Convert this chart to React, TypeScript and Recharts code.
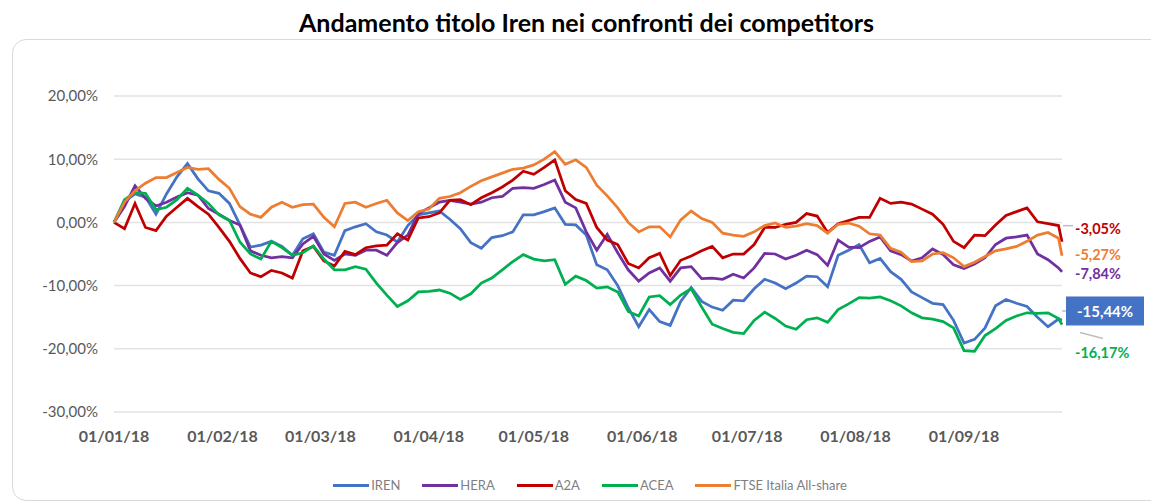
import React from 'react';
import { LineChart, Line, XAxis, YAxis, CartesianGrid, LabelList } from 'recharts';

// Day offsets since 01/01/18
const days = [
  0, 3, 6, 9, 12, 15, 18, 21, 24, 27,
  30, 33, 36, 39, 42, 45, 48, 51, 54, 57,
  60, 63, 66, 69, 72, 75, 78, 81, 84, 87,
  90, 93, 96, 99, 102, 105, 108, 111, 114, 117,
  120, 123, 126, 129, 132, 135, 138, 141, 144, 147,
  150, 153, 156, 159, 162, 165, 168, 171, 174, 177,
  180, 183, 186, 189, 192, 195, 198, 201, 204, 207,
  210, 213, 216, 219, 222, 225, 228, 231, 234, 237,
  240, 243, 246, 249, 252, 255, 258, 261, 264, 267,
  270, 271,
];

const iren = [
  0, 3.3, 4.5, 4, 1.3, 4.5, 7.2, 9.3, 6.9, 5,
  4.6, 3, -0.4, -3.9, -3.6, -3, -3.8, -5.2, -2.6, -1.8,
  -4.7, -5.2, -1.3, -0.7, -0.2, -1.5, -2, -3.1, -0.5, 1.2,
  1.5, 1.8, 0.5, -1, -3.2, -4.1, -2.4, -2.1, -1.5, 1.2,
  1.2, 1.7, 2.3, -0.3, -0.4, -2, -6.7, -7.5, -10, -13.5,
  -16.5, -13.8, -15.7, -16.3, -12.5, -10.3, -12.5, -13.4, -13.9, -12.3,
  -12.4, -10.5, -9, -9.6, -10.5, -9.6, -8.5, -8.6, -10.2, -5.2,
  -4.4, -3.5, -6.4, -5.7, -7.8, -9, -11, -11.9, -12.8, -13,
  -15.5, -19.1, -18.5, -16.7, -13.2, -12.2, -12.8, -13.3, -15, -16.5,
  -15.3, -15.44,
];

const hera = [
  0, 2.5, 5.8, 3.8, 2.6, 3.2, 4, 4.7, 4.3, 2.2,
  1.3, 0.3, -0.4, -4.5, -5.2, -5.6, -5.4, -5.6, -3.4, -2.2,
  -5, -6, -5, -5.2, -4.4, -4.4, -5.2, -3.2, -2, 1.4,
  2.3, 3.2, 3.5, 3.2, 2.9, 3.2, 3.9, 4.1, 5.4, 5.5,
  5.4, 6, 6.7, 3.2, 2.3, -1.5, -4.4, -1.9, -4.8, -7.5,
  -9.3, -8, -7.2, -9.3, -7.2, -7, -8.9, -8.8, -9, -8.2,
  -8.8, -7.2, -4.9, -5, -5.8, -5.2, -4.4, -5.1, -6.8, -2.8,
  -3.9, -4, -3, -2.3, -4.5, -5.1, -6.1, -5.6, -4.2, -5.1,
  -6.7, -7.3, -6.6, -5.6, -3.5, -2.5, -2.3, -2, -5, -5.9,
  -7.2, -7.84,
];

const a2a = [
  0, -1, 3, -0.8, -1.3, 1, 2.4, 3.8, 2.5, 1.3,
  -0.8, -3, -5.7, -8, -8.6, -7.6, -8, -8.8, -4.5, -3.8,
  -6.1, -6.9, -4.6, -5.1, -4, -3.7, -3.6, -1.8, -2.8, 0.7,
  0.9, 1.5, 3.5, 3.6, 2.8, 3.9, 4.7, 5.6, 6.7, 8.1,
  7.6, 8.7, 9.9, 5, 3.6, 3, -0.8, -2.8, -3.5, -6.5,
  -7.2, -5.6, -4.9, -8.4, -6, -5.3, -4.5, -3.8, -5.6, -5,
  -5, -3.5, -0.8, -0.8, -0.3, 0, 1.4, 1, -1.6, -0.2,
  0.3, 0.8, 0.8, 3.8, 3, 3.2, 2.9, 2.1, 1.3, -0.3,
  -3, -4, -2, -2.1, -0.4, 1.1, 1.7, 2.3, 0.1, -0.2,
  -0.5, -3.05,
];

const acea = [
  0, 3.6, 4.7, 4.6, 2, 2.4, 3.6, 5.4, 4.3, 3,
  1.2, 0.3, -3.1, -5, -5.8, -3, -4, -5.2, -4.8, -3.7,
  -5.8, -7.5, -7.5, -7, -7.4, -9.6, -11.5, -13.3, -12.4, -11,
  -10.9, -10.7, -11.2, -12.2, -11.3, -9.6, -8.8, -7.5, -6.2, -5.1,
  -5.8, -6.1, -5.9, -9.8, -8.5, -9.2, -10.4, -10.2, -11, -14.1,
  -14.8, -11.8, -11.6, -13, -11.5, -10.5, -13.4, -16.1, -16.8, -17.4,
  -17.6, -15.5, -14.2, -15.2, -16.4, -16.9, -15.4, -15.1, -15.8, -13.8,
  -12.9, -11.9, -12, -11.8, -12.4, -13.2, -14.3, -15.1, -15.3, -15.7,
  -16.7, -20.3, -20.4, -17.9, -16.8, -15.5, -14.8, -14.3, -14.4, -14.3,
  -15.2, -16.17,
];

const ftse = [
  0, 3.2, 5, 6.2, 7.1, 7.1, 7.9, 8.7, 8.4, 8.5,
  6.8, 5.4, 2.5, 1.3, 0.8, 2.4, 3.2, 2.4, 2.8, 2.9,
  0.8, -0.7, 3, 3.2, 2.4, 3, 3.5, 1.5, 0.3, 1.7,
  2.1, 3.8, 4.1, 4.7, 5.7, 6.6, 7.2, 7.8, 8.4, 8.6,
  9.1, 10, 11.2, 9.2, 9.9, 8.7, 5.9, 4.2, 2.3, 0,
  -1.5, -0.7, -0.7, -2.3, 0.4, 1.8, 0.6, 0, -1.7, -2,
  -2.2, -1.5, -0.5, -0.1, -0.8, -0.6, -0.2, -0.5, -1.7, -0.3,
  -0.1, -0.6, -1.8, -2, -4.1, -4.7, -6.2, -6.1, -5, -4.8,
  -5.6, -7, -6.3, -5.4, -4.5, -4.2, -3.8, -3, -2, -1.6,
  -2.5, -5.27,
];

const monthTicks = [0, 31, 59, 90, 120, 151, 181, 212, 243];
const monthLabels = ['01/01/18', '01/02/18', '01/03/18', '01/04/18', '01/05/18', '01/06/18', '01/07/18', '01/08/18', '01/09/18'];
const yTicks = [-30, -20, -10, 0, 10, 20];

const TITLE = 'Andamento titolo Iren nei confronti dei competitors';

const data = days.map((d, i) => ({
  day: d,
  IREN: iren[i],
  HERA: hera[i],
  A2A: a2a[i],
  ACEA: acea[i],
  FTSE: ftse[i],
}));

const lastIndex = data.length - 1;

type LabelCfg = { dy: number; box?: boolean; leader?: [number, number, number, number] };

const series: { key: string; name: string; color: string; label: LabelCfg }[] = [
  { key: 'IREN', name: 'IREN', color: '#4472C4', label: { dy: -9, box: true, leader: [0, -9, 4, -9] } },
  { key: 'HERA', name: 'HERA', color: '#7030A0', label: { dy: 2 } },
  { key: 'A2A', name: 'A2A', color: '#C00000', label: { dy: -13, leader: [1, -16, 11, -16] } },
  { key: 'ACEA', name: 'ACEA', color: '#00B050', label: { dy: 28, leader: [18, 8, 41, 14] } },
  { key: 'FTSE', name: 'FTSE Italia All-share', color: '#ED7D31', label: { dy: -1 } },
];

const fmtPct = (v: number) => v.toFixed(2).replace('.', ',') + '%';
const FONT = 'Lato, "Open Sans", sans-serif';

const makeEndLabel = (color: string, cfg: LabelCfg) => (props: any) => {
  const { x, y, value, index } = props;
  if (index !== lastIndex || x == null || y == null) return null;
  const text = fmtPct(Number(value));
  const ty = y + cfg.dy;
  const leader = cfg.leader ? (
    <line
      x1={x + cfg.leader[0]}
      y1={y + cfg.leader[1]}
      x2={x + cfg.leader[2]}
      y2={y + cfg.leader[3]}
      stroke="#bfbfbf"
      strokeWidth={1.5}
    />
  ) : null;
  if (cfg.box) {
    return (
      <g>
        {leader}
        <rect x={x + 4} y={ty - 14.5} width={78} height={29} fill={color} />
        <text x={x + 43} y={ty} textAnchor="middle" dominantBaseline="central" fill="#ffffff" fontFamily={FONT} fontWeight={700} fontSize={15}>
          {text}
        </text>
      </g>
    );
  }
  return (
    <g>
      {leader}
      <text x={x + 13} y={ty} dominantBaseline="central" fill={color} fontFamily={FONT} fontWeight={700} fontSize={14.5}>
        {text}
      </text>
    </g>
  );
};

export default function App() {
  return (
    <div style={{ position: 'absolute', left: 0, top: 0, width: 1151, height: 504, overflow: 'hidden', background: '#ffffff' }}>
      <div
        style={{
          position: 'absolute',
          left: 0,
          top: 7,
          width: 1151,
          paddingLeft: 22,
          boxSizing: 'border-box',
          textAlign: 'center',
          fontFamily: FONT,
          fontWeight: 700,
          fontSize: 25,
          lineHeight: '30px',
          color: '#000000',
          whiteSpace: 'nowrap',
        }}
      >
        {TITLE}
      </div>
      <div
        style={{
          position: 'absolute',
          left: 12,
          top: 39,
          width: 1170,
          height: 462,
          border: '1.5px solid #d9d9d9',
          borderRadius: 14,
          boxSizing: 'border-box',
        }}
      />
      <div style={{ position: 'absolute', left: 0, top: 0 }}>
        <LineChart width={1151} height={504} data={data} margin={{ top: 96, right: 89, bottom: 52, left: 0 }}>
          <CartesianGrid vertical={false} stroke="#e3e3e3" strokeWidth={1.5} />
          <XAxis
            dataKey="day"
            type="number"
            domain={[0, 271]}
            ticks={monthTicks}
            tickFormatter={(v: number) => monthLabels[monthTicks.indexOf(v)] ?? ''}
            axisLine={false}
            tickLine={false}
            tickSize={0}
            tickMargin={19}
            height={40}
            interval={0}
            tick={{ fill: '#595959', fontFamily: FONT, fontWeight: 700, fontSize: 16 }}
          />
          <YAxis
            type="number"
            domain={[-30, 20]}
            ticks={yTicks}
            tickFormatter={(v: number) => fmtPct(v)}
            axisLine={false}
            tickLine={false}
            tickSize={0}
            tickMargin={16}
            width={114}
            interval={0}
            tick={{ fill: '#595959', fontFamily: FONT, fontSize: 15 }}
          />
          {series.map((s) => (
            <Line
              key={s.key}
              type="linear"
              dataKey={s.key}
              name={s.name}
              stroke={s.color}
              strokeWidth={2.75}
              dot={false}
              activeDot={false}
              isAnimationActive={false}
            >
              <LabelList dataKey={s.key} content={makeEndLabel(s.color, s.label)} />
            </Line>
          ))}
        </LineChart>
      </div>
      <div
        style={{
          position: 'absolute',
          left: 0,
          top: 476,
          width: 1151,
          paddingLeft: 29,
          boxSizing: 'border-box',
          display: 'flex',
          justifyContent: 'center',
          alignItems: 'center',
          gap: 22,
          fontFamily: FONT,
          fontSize: 13,
          lineHeight: '18px',
          color: '#7f7f7f',
        }}
      >
        {series.map((s) => (
          <div key={s.key} style={{ display: 'flex', alignItems: 'center' }}>
            <span style={{ display: 'inline-block', width: 36, height: 3, background: s.color, marginRight: 2 }} />
            <span>{s.name}</span>
          </div>
        ))}
      </div>
    </div>
  );
}
